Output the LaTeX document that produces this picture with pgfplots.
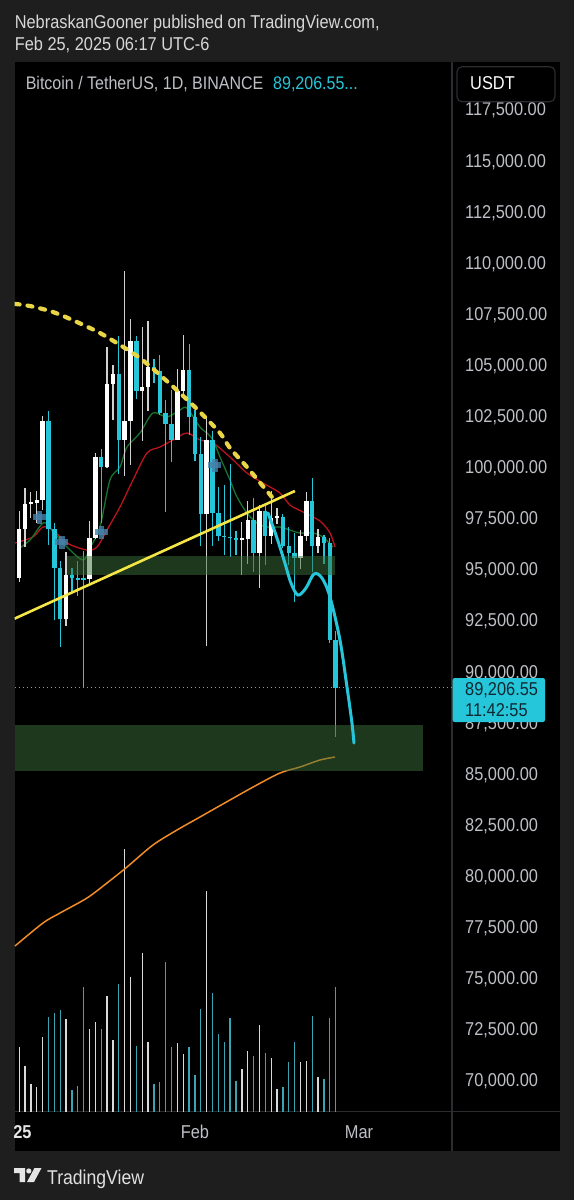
\documentclass[border=0pt]{standalone}
\usepackage{fontspec}
\setmainfont[FakeStretch=0.88]{Liberation Sans}
\usepackage{pgfplots}
\pgfplotsset{compat=1.18}
\usepackage{pgfplotstable}

\definecolor{bgout}{RGB}{30,30,30}
\definecolor{sepc}{RGB}{44,44,48}
\definecolor{tvcyan}{RGB}{38,198,218}
\definecolor{volcyan}{RGB}{58,164,180}
\definecolor{lbl}{RGB}{190,192,198}
\definecolor{hdr}{RGB}{215,215,215}
\definecolor{boxg}{RGB}{58,112,58}
\definecolor{mablue}{RGB}{70,130,172}
\definecolor{emagreen}{RGB}{25,115,45}
\definecolor{emared}{RGB}{185,20,30}
\definecolor{maorange}{RGB}{240,140,40}
\definecolor{ylw}{RGB}{245,230,70}
\definecolor{ylwd}{RGB}{232,214,70}
\definecolor{darktxt}{RGB}{15,40,50}

\newcommand\fs[1]{\fontsize{#1}{#1}\selectfont}

% up (white) candles: day (Jan 1 = 1, Feb 1 = 32), open, high, low, close, volume (relative)
\pgfplotstableread{
d o h l c v
2 94591 97839 94392 96984 65.0
3 96984 98976 96100 98174 45.7
4 98174 98778 97514 98220 27.7
5 98220 98836 97276 98364 24.3
6 98364 102480 97920 102235 74.3
10 92552 95837 92206 94727 93.0
14 94516 97371 94346 96534 82.3
15 96535 100681 96500 100504 89.7
17 99987 105865 99950 104077 115.3
18 104078 104988 102277 104556 71.7
20 101331 109588 99550 102260 262.3
21 102260 107240 100119 106144 135.0
23 103706 106850 101262 103910 158.3
24 103910 107120 102750 104870 70.0
29 101335 104800 101328 103733 69.0
30 103733 106457 103308 104722 57.7
34 97700 102500 91231 101328 220.3
40 96444 97323 94713 96462 42.3
41 96462 98345 95256 97430 61.0
43 95778 98119 94088 97870 86.3
45 96608 98826 96252 97500 54.0
46 97500 97972 97223 97569 22.7
50 95539 96899 95030 96635 49.3
51 96635 98766 96400 98334 51.0
53 96125 96980 95770 96577 34.3
}\upc

% down (cyan) candles
\pgfplotstableread{
d o h l c v
7 102235 102724 96181 96954 95.0
8 96954 97258 92500 95061 99.0
9 95061 95382 91203 92552 101.7
11 94727 95050 93831 94566 21.7
12 94566 95400 93712 94488 26.0
13 94560 95900 89256 94480 125.0
16 100505 100873 97258 99987 82.3
19 104556 106422 99651 101331 127.7
22 106144 106394 103339 103706 65.7
25 104871 105286 104107 104714 27.3
26 104714 105500 102520 102620 30.0
27 102620 103260 97777 102083 149.3
28 102083 103783 100233 101335 65.0
31 104722 106012 101560 102429 65.0
32 102429 102783 100279 100635 36.7
33 100635 101456 96150 97700 102.3
35 101328 101745 96150 97763 118.3
36 97763 99000 96387 96612 77.7
37 96612 99120 95676 96554 69.7
38 96554 100137 95620 96506 93.3
39 96506 96880 95688 96444 30.7
42 97430 98478 94876 95778 55.3
44 97870 98083 95217 96608 59.0
47 97569 97725 96055 96118 25.0
48 96118 97046 95205 95780 49.3
49 95780 96753 93388 95539 69.7
52 98334 99475 94871 96125 95.7
54 96577 96671 95270 96273 33.0
55 96273 96503 91371 91552 93.3
56 91552 92000 86792 89206 124.7
}\dnc

\pgfdeclareplotmark{tplus}{%
  \pgfpathrectangle{\pgfpoint{-7pt}{-2.6pt}}{\pgfpoint{13pt}{5.2pt}}%
  \pgfusepathqfill
  \pgfpathrectangle{\pgfpoint{-2.6pt}{-6.5pt}}{\pgfpoint{5.2pt}{13pt}}%
  \pgfusepathqfill}

\pgfplotsset{candle/.style={only marks, mark=none, mark size=0pt,
  mark options={draw=none, fill=none, opacity=0}}}

\begin{document}
\begin{tikzpicture}
\path[use as bounding box] (0,0) rectangle (574pt,-1200pt);
\fill[bgout] (0,0) rectangle (574pt,-1200pt);
\fill[black] (14.6pt,-61.7pt) rectangle (559.7pt,-1150.7pt);
\draw[sepc, line width=1.2pt] (452pt,-61.7pt) -- (452pt,-1150.7pt);
\draw[sepc, line width=1pt] (14.6pt,-1111.7pt) -- (559.7pt,-1111.7pt);

% volume
\begin{axis}[at={(14.6pt,-1111.7pt)}, anchor=south west, scale only axis,
  width=437.4pt, height=1050pt, xmin=1.22, xmax=75.86, ymin=0, ymax=1050, hide axis]
\addplot[ycomb, white!85!black, line width=1.3pt, mark=none] table[x=d,y=v] {\upc};
\addplot[ycomb, volcyan, line width=1.3pt, mark=none] table[x=d,y=v] {\dnc};
\end{axis}

% price
\begin{axis}[at={(14.6pt,-1111.7pt)}, anchor=south west, scale only axis,
  width=437.4pt, height=1050pt, xmin=1.22, xmax=75.86, ymin=68462, ymax=119827,
  axis line style={draw=none}, tick style={draw=none}, major tick length=0pt,
  scaled y ticks=false, scaled x ticks=false,
  ytick={70000,72500,...,117500},
  yticklabels={{70,000.00},{72,500.00},{75,000.00},{77,500.00},{80,000.00},{82,500.00},{85,000.00},{87,500.00},{90,000.00},{92,500.00},{95,000.00},{97,500.00},{100,000.00},{102,500.00},{105,000.00},{107,500.00},{110,000.00},{112,500.00},{115,000.00},{117,500.00}},
  yticklabel pos=right,
  yticklabel style={anchor=base west, inner sep=0pt, xshift=13pt, yshift=-6.65pt, text=lbl, font=\fs{18.6}},
  xtick={32,60}, xticklabels={Feb,Mar},
  xticklabel style={anchor=base, inner sep=0pt, yshift=-26.9pt, text=lbl, font=\fs{18.6}},
  clip=true]

% moving averages
\addplot[maorange, line width=1.5pt, smooth] coordinates {
(1.28,76567) (6.06,77692) (8.96,78181) (13.57,78915) (16.98,79649) (20.4,80432)
(24.83,81508) (28.93,82242) (32.85,82878) (37.97,83710) (42.24,84395) (46.5,85030)
(49.92,85324) (53.33,85666) (55.89,85813)};
\addplot[emared, line width=1.3pt, smooth] coordinates {
(1.28,96282) (4.35,96576) (6.06,97065) (7.77,96918) (10.16,96282) (13.57,95940)
(15.28,96086) (16.98,96918) (19.2,98043) (21.42,99364) (23.81,100685) (26.03,100978)
(28.25,101321) (30.63,101663) (32.85,101321) (35.07,101174) (37.97,100489) (40.87,99706)
(43.6,99217) (46.5,98728) (48.21,98141) (50.43,97799) (53.33,97358) (55.04,96771) (55.89,96086)};
\addplot[emagreen, line width=1.3pt, smooth] coordinates {
(1.62,95940) (3.84,96429) (6.06,97260) (7.26,97016) (10.16,96086) (12.89,95450)
(14.08,96037) (15.79,97065) (17.49,99364) (19.2,100000) (20.4,100978) (22.61,101663)
(24.83,102642) (27.22,102446) (29.44,102788) (30.63,102886) (32.85,101957) (34.05,101663)
(35.07,101321) (36.27,100489) (37.97,99364) (39.17,98532) (40.87,97750) (42.58,97260)
(44.29,97065) (46.5,97065) (48.21,96918) (49.92,96771) (52.14,96771) (53.84,96576) (55.55,96086)};

% wicks (low -> high)
\addplot[candle, error bars/.cd, y dir=plus, y explicit, error mark=none,
  error bar style={draw=white!82!black, line width=1.2pt, solid}]
  table[x=d, y=l, y error expr={\thisrow{h}-\thisrow{l}}] {\upc};
\addplot[candle, error bars/.cd, y dir=plus, y explicit, error mark=none,
  error bar style={draw=tvcyan, line width=1.2pt, solid}]
  table[x=d, y=l, y error expr={\thisrow{h}-\thisrow{l}}] {\dnc};
% bodies (min(open,close) -> max(open,close))
\addplot[candle, error bars/.cd, y dir=plus, y explicit, error mark=none,
  error bar style={draw=white, line width=4.4pt, solid}]
  table[x=d, y expr={min(\thisrow{o},\thisrow{c})}, y error expr={max(abs(\thisrow{o}-\thisrow{c}),90)}] {\upc};
\addplot[candle, error bars/.cd, y dir=plus, y explicit, error mark=none,
  error bar style={draw=tvcyan, line width=4.4pt, solid}]
  table[x=d, y expr={min(\thisrow{o},\thisrow{c})}, y error expr={max(abs(\thisrow{o}-\thisrow{c}),90)}] {\dnc};

% markers
\addplot[only marks, mark=tplus, color=mablue, opacity=0.8] coordinates {
(5.5,97554) (9.3,96331) (16.1,96820) (35.4,100098)};

% zones
\addplot[draw=none, fill=boxg, fill opacity=0.5] coordinates {
(10.16,94717) (55.9,94717) (55.9,95646) (10.16,95646)} -- cycle;
\addplot[draw=none, fill=boxg, fill opacity=0.5] coordinates {
(1.22,85128) (70.9,85128) (70.9,87378) (1.22,87378)} -- cycle;

% current price line
\addplot[tvcyan, line width=1.1pt, dash pattern=on 1.5pt off 2.5pt] coordinates {
(1.22,89206.55) (75.86,89206.55)};

% trend line and dashed arc
\addplot[ylw, line width=2.6pt] coordinates {(1.22,92583) (49.06,98826)};
\addplot[ylwd, line width=4.2pt, line cap=round, dash pattern=on 5pt off 8pt, smooth] coordinates {
(1.22,107980) (3.84,107876) (7.77,107583) (11.86,107093) (15.79,106555) (19.2,105968)
(22.61,105332) (26.03,104501) (29.44,103620) (32.85,102691) (36.27,101663) (37.97,100929)
(40.87,100000) (43.43,99119) (45.14,98532)};

% projected path
\addplot[tvcyan, line width=3pt, line cap=round, smooth, tension=0.55] coordinates {
(44.46,97750) (45.82,96673) (47.19,95450) (48.38,94325) (49.58,93738) (50.94,94081)
(52.31,94766) (53.67,94570) (55.04,93640) (56.74,91537) (57.94,89238) (58.79,87476) (59.13,86498)};
\end{axis}

% USDT box
\draw[sepc, line width=1.2pt, fill=black, rounded corners=5pt] (457pt,-66.7pt) rectangle (555pt,-101.7pt);
\node[anchor=base west, inner sep=0pt, text=white, font=\fs{18.6}] at (470pt,-89.6pt) {USDT};

% current price label
\fill[tvcyan, rounded corners=2pt] (452.7pt,-678pt) rectangle (545pt,-722pt);
\node[anchor=base west, inner sep=0pt, text=darktxt, font=\fs{18.6}] at (465pt,-695pt) {89,206.55};
\node[anchor=base west, inner sep=0pt, text=darktxt, font=\fs{18.6}] at (465pt,-716pt) {11:42:55};

% year label (cut by panel edge)
\begin{scope}
\clip (14.6pt,-1112pt) rectangle (452pt,-1150pt);
\node[anchor=base, inner sep=0pt, text=white!90!black, font=\fs{18.6}\bfseries] at (13.3pt,-1138.6pt) {2025};
\end{scope}

% header
\node[anchor=base west, inner sep=0pt, text=hdr, font=\fs{18.6}] at (14.6pt,-28.3pt) {NebraskanGooner published on TradingView.com,};
\node[anchor=base west, inner sep=0pt, text=hdr, font=\fs{18.6}] at (14.6pt,-50pt) {Feb 25, 2025 06:17 UTC-6};
\node[anchor=base west, inner sep=0pt, text=lbl, font=\fs{18.2}] at (25.6pt,-89.6pt) {Bitcoin / TetherUS, 1D, BINANCE};
\node[anchor=base west, inner sep=0pt, text=tvcyan, font=\fs{18.2}] at (273pt,-89.6pt) {89,206.55...};

% footer logo
\fill[white!90!black] (14pt,-1168pt) -- (25pt,-1168pt) -- (25pt,-1182pt) -- (19.5pt,-1182pt) -- (19.5pt,-1173pt) -- (14pt,-1173pt) -- cycle;
\fill[white!90!black] (28.8pt,-1171pt) circle (2.6pt);
\fill[white!90!black] (34.5pt,-1168pt) -- (41.5pt,-1168pt) -- (34pt,-1182pt) -- (27pt,-1182pt) -- cycle;
\node[anchor=base west, inner sep=0pt, text=white!88!black, font=\fs{20}] at (47pt,-1184pt) {TradingView};
\end{tikzpicture}
\end{document}
